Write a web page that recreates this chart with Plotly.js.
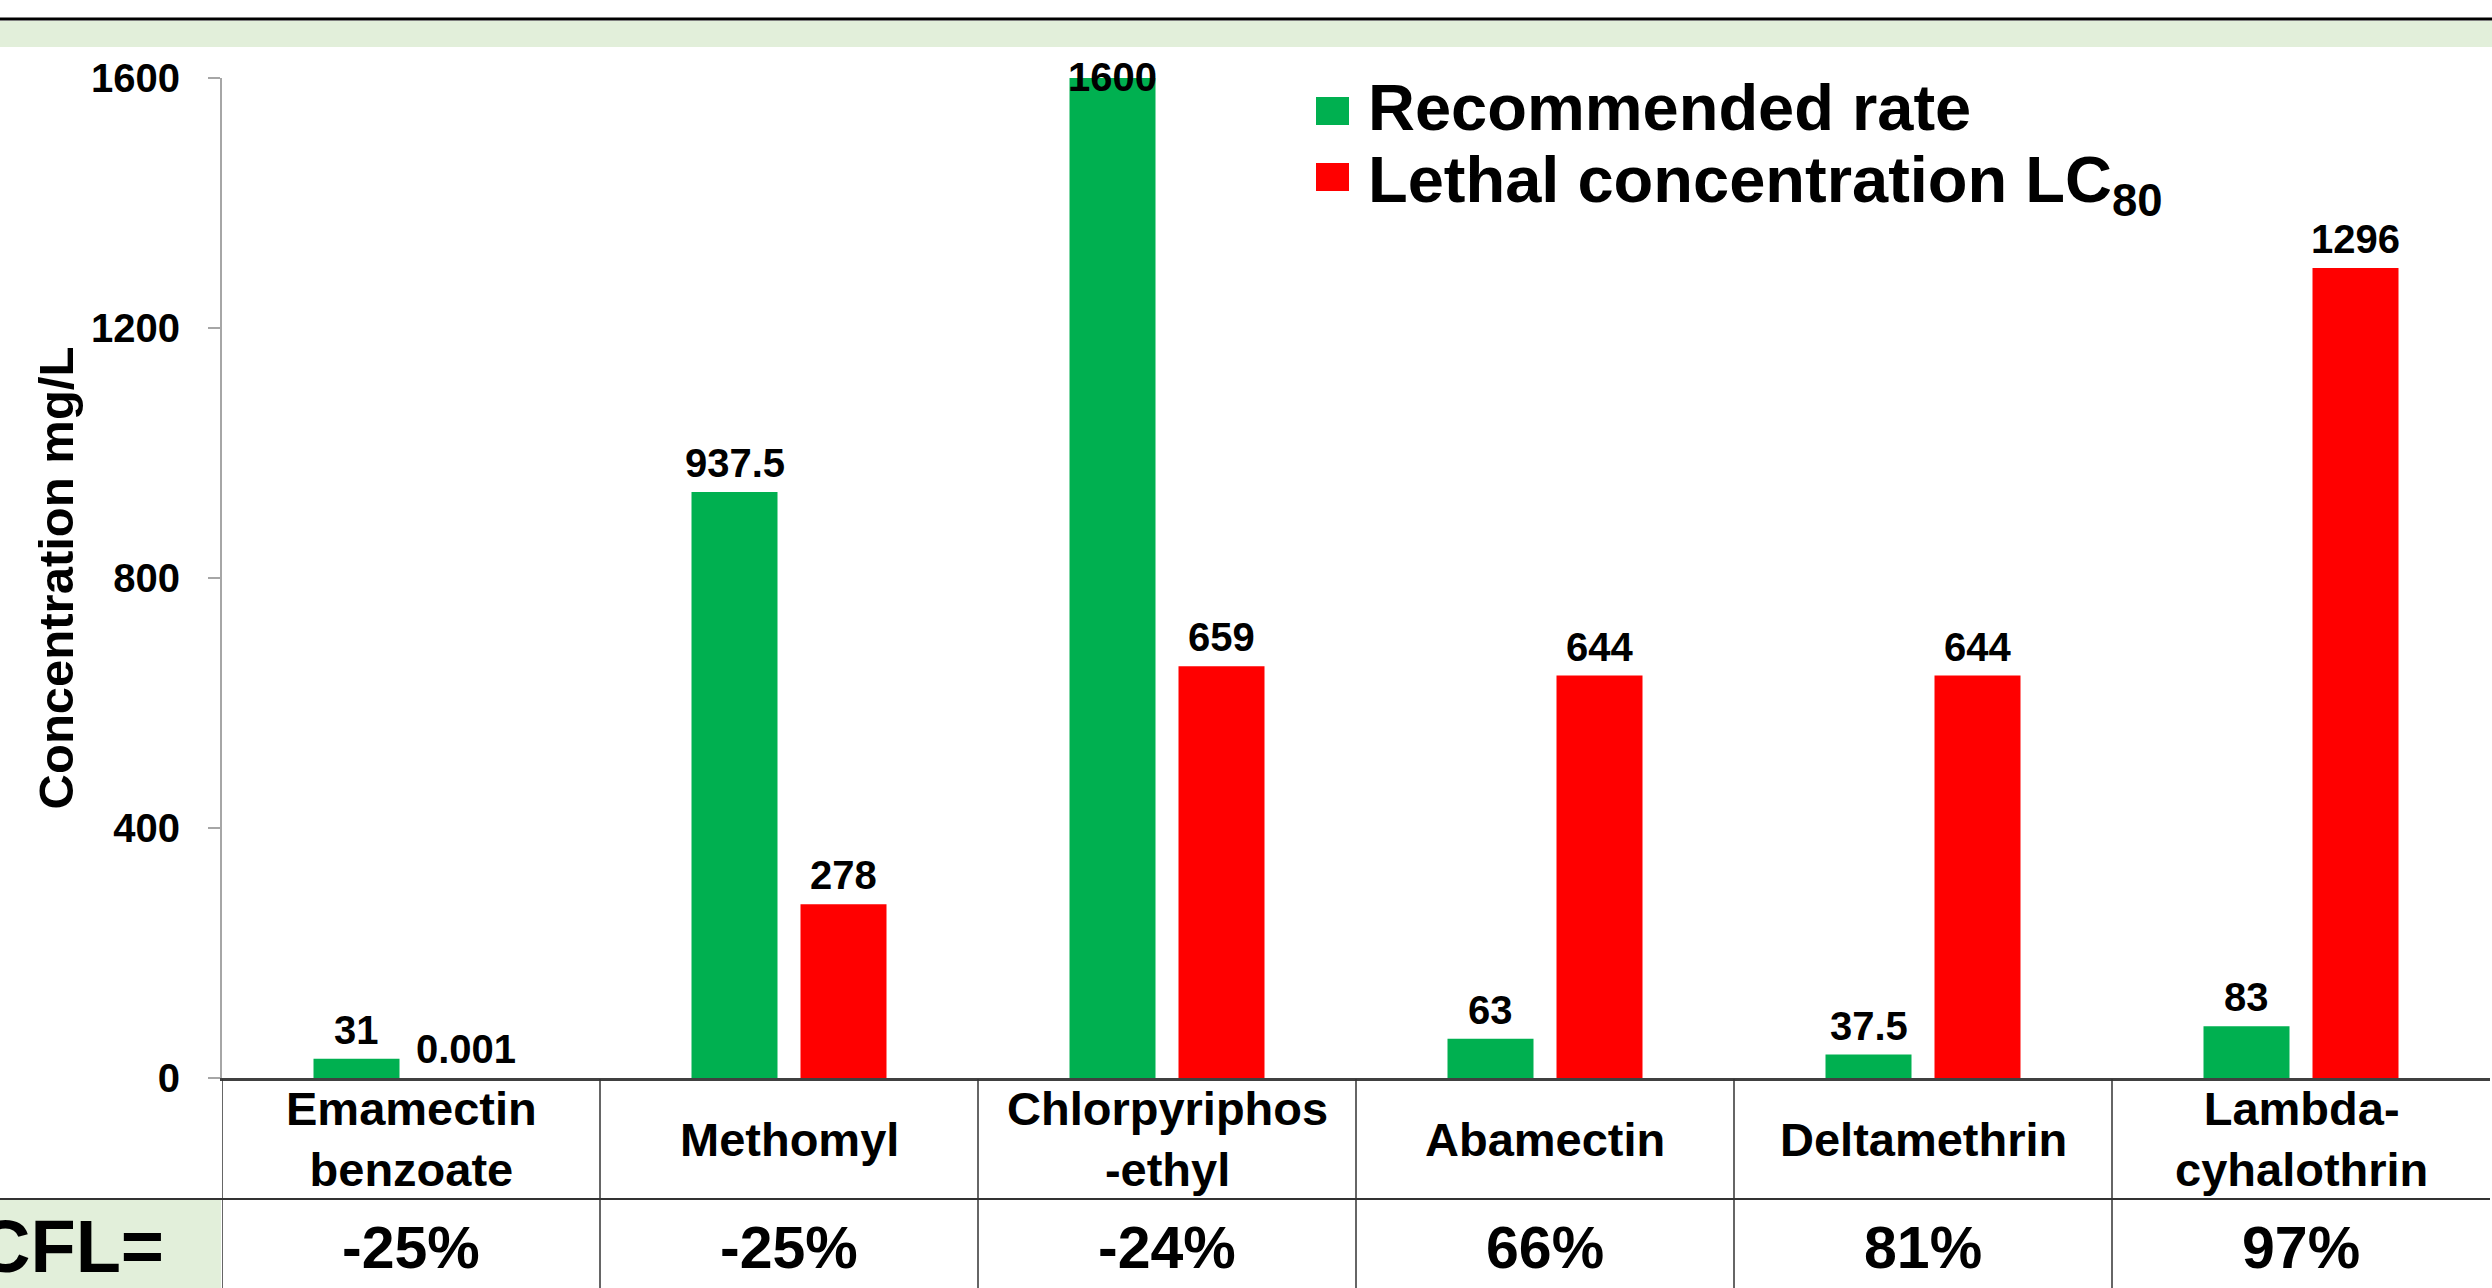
<!DOCTYPE html>
<html>
<head>
<meta charset="utf-8">
<script src="https://cdn.plot.ly/plotly-3.0.1.min.js"></script>
<style>
  html, body { margin: 0; padding: 0; background: #ffffff; }
  #chart { width: 2492px; height: 1288px; }
</style>
</head>
<body>
<div id="chart"></div>
<script>
// ---- data ----
const categories = ['Emamectin benzoate', 'Methomyl', 'Chlorpyriphos-ethyl', 'Abamectin', 'Deltamethrin', 'Lambda-cyhalothrin'];
const categoryLabels = ['Emamectin<br>benzoate', 'Methomyl', 'Chlorpyriphos<br>-ethyl', 'Abamectin', 'Deltamethrin', 'Lambda-<br>cyhalothrin'];
const recommendedRate = [31, 937.5, 1600, 63, 37.5, 83];
const lethalLC80 = [0.001, 278, 659, 644, 644, 1296];
const cflValues = ['-25%', '-25%', '-24%', '66%', '81%', '97%'];
const yTickValues = [0, 400, 800, 1200, 1600];
const seriesNames = ['Recommended rate', 'Lethal concentration LC<sub>80</sub>'];

// ---- style ----
const FONT = 'Liberation Sans, Arial, Helvetica, sans-serif';
const GREEN = '#00B050';
const RED = '#FF0000';
const BAND = '#E2EFDA';
const W = 2492, H = 1288;
const M = {l: 222, r: 2, t: 78, b: 210};
const plotW = W - M.l - M.r, plotH = H - M.t - M.b;
const px = x => (x - M.l) / plotW;       // page px -> paper x
const py = y => (M.t + plotH - y) / plotH; // page px -> paper y
const BARGAP = 0.4233, BARGROUPGAP = 0.211;
const slotHalf = (1 - BARGAP) / 4;   // offset of each bar centre from category centre
const YMAX = 1600;
const labelCap = 1555;

const traces = [
  {type: 'bar', name: seriesNames[0], x: categories.map((c, i) => i), y: recommendedRate,
   marker: {color: GREEN}, showlegend: false, hoverinfo: 'skip'},
  {type: 'bar', name: seriesNames[1], x: categories.map((c, i) => i), y: lethalLC80,
   marker: {color: RED}, showlegend: false, hoverinfo: 'skip'}
];

const annotations = [];
const bold = (size, color) => ({family: FONT, size: size, color: color || '#000', weight: 'bold'});

// data labels
recommendedRate.forEach((v, i) => annotations.push({
  x: i - slotHalf, y: Math.min(v, labelCap), xref: 'x', yref: 'y', text: String(v),
  showarrow: false, yanchor: 'bottom', xanchor: 'center', yshift: 5, font: bold(40)
}));
lethalLC80.forEach((v, i) => annotations.push({
  x: i + slotHalf, y: Math.min(v, labelCap), xref: 'x', yref: 'y', text: String(v),
  showarrow: false, yanchor: 'bottom', xanchor: 'center', yshift: 5, font: bold(40)
}));
// category row
categoryLabels.forEach((t, i) => annotations.push({
  x: i, y: py(1139), xref: 'x', yref: 'paper', text: t, showarrow: false,
  xanchor: 'center', yanchor: 'middle', font: bold(47), align: 'center'
}));
// CFL row
cflValues.forEach((t, i) => annotations.push({
  x: i, y: py(1248), xref: 'x', yref: 'paper', text: t, showarrow: false,
  xanchor: 'center', yanchor: 'middle', font: bold(59)
}));
annotations.push({
  x: px(166), y: py(1246), xref: 'paper', yref: 'paper', text: 'CFL=', showarrow: false,
  xanchor: 'right', yanchor: 'middle', font: bold(74)
});
// legend texts
annotations.push({
  x: px(1366), y: py(107), xref: 'paper', yref: 'paper', text: seriesNames[0], showarrow: false,
  xanchor: 'left', yanchor: 'middle', font: bold(65)
});
annotations.push({
  x: px(1366), y: py(184), xref: 'paper', yref: 'paper', text: seriesNames[1], showarrow: false,
  xanchor: 'left', yanchor: 'middle', font: bold(65)
});

const shapes = [
  // top band + rule
  {type: 'rect', xref: 'paper', yref: 'paper', x0: px(0), x1: px(W), y0: py(47), y1: py(21),
   fillcolor: BAND, line: {width: 0}, layer: 'below'},
  {type: 'line', xref: 'paper', yref: 'paper', x0: px(0), x1: px(W), y0: py(19), y1: py(19),
   line: {color: '#000', width: 3}},
  // CFL cell background
  {type: 'rect', xref: 'paper', yref: 'paper', x0: px(0), x1: px(221), y0: py(H), y1: py(1199),
   fillcolor: BAND, line: {width: 0}, layer: 'below'},
  // row separator
  {type: 'line', xref: 'paper', yref: 'paper', x0: px(0), x1: px(2490), y0: py(1199), y1: py(1199),
   line: {color: '#333', width: 2}},
  // legend swatches
  {type: 'rect', xref: 'paper', yref: 'paper', x0: px(1316), x1: px(1349), y0: py(125), y1: py(97),
   fillcolor: GREEN, line: {width: 0}},
  {type: 'rect', xref: 'paper', yref: 'paper', x0: px(1316), x1: px(1349), y0: py(191), y1: py(163),
   fillcolor: RED, line: {width: 0}}
];
// column separators of the table
categories.forEach((c, i) => shapes.push({
  type: 'line', xref: 'x', yref: 'paper', x0: i - 0.5, x1: i - 0.5, y0: py(1079), y1: py(H),
  line: {color: '#333', width: 1.5}
}));

const layout = {
  width: W, height: H,
  margin: M,
  paper_bgcolor: '#ffffff', plot_bgcolor: '#ffffff',
  barmode: 'group', bargap: BARGAP, bargroupgap: BARGROUPGAP,
  showlegend: false,
  font: {family: FONT, color: '#000'},
  xaxis: {
    type: 'linear', range: [-0.5, categories.length - 0.5],
    showticklabels: false, ticks: '', showgrid: false, zeroline: false,
    showline: true, linecolor: '#404040', linewidth: 2.5, fixedrange: true
  },
  yaxis: {
    range: [0, YMAX], tickmode: 'array', tickvals: yTickValues,
    ticktext: yTickValues.map(String),
    ticks: 'outside', ticklen: 12, tickwidth: 2, tickcolor: '#A6A6A6',
    showline: true, linecolor: '#A6A6A6', linewidth: 2,
    showgrid: false, zeroline: false, fixedrange: true,
    tickfont: bold(40), ticklabelstandoff: 20,
    title: {text: 'Concentration mg/L', font: bold(49), standoff: 2}
  },
  annotations: annotations,
  shapes: shapes
};

Plotly.newPlot('chart', traces, layout, {staticPlot: true, displayModeBar: false});
</script>
</body>
</html>
